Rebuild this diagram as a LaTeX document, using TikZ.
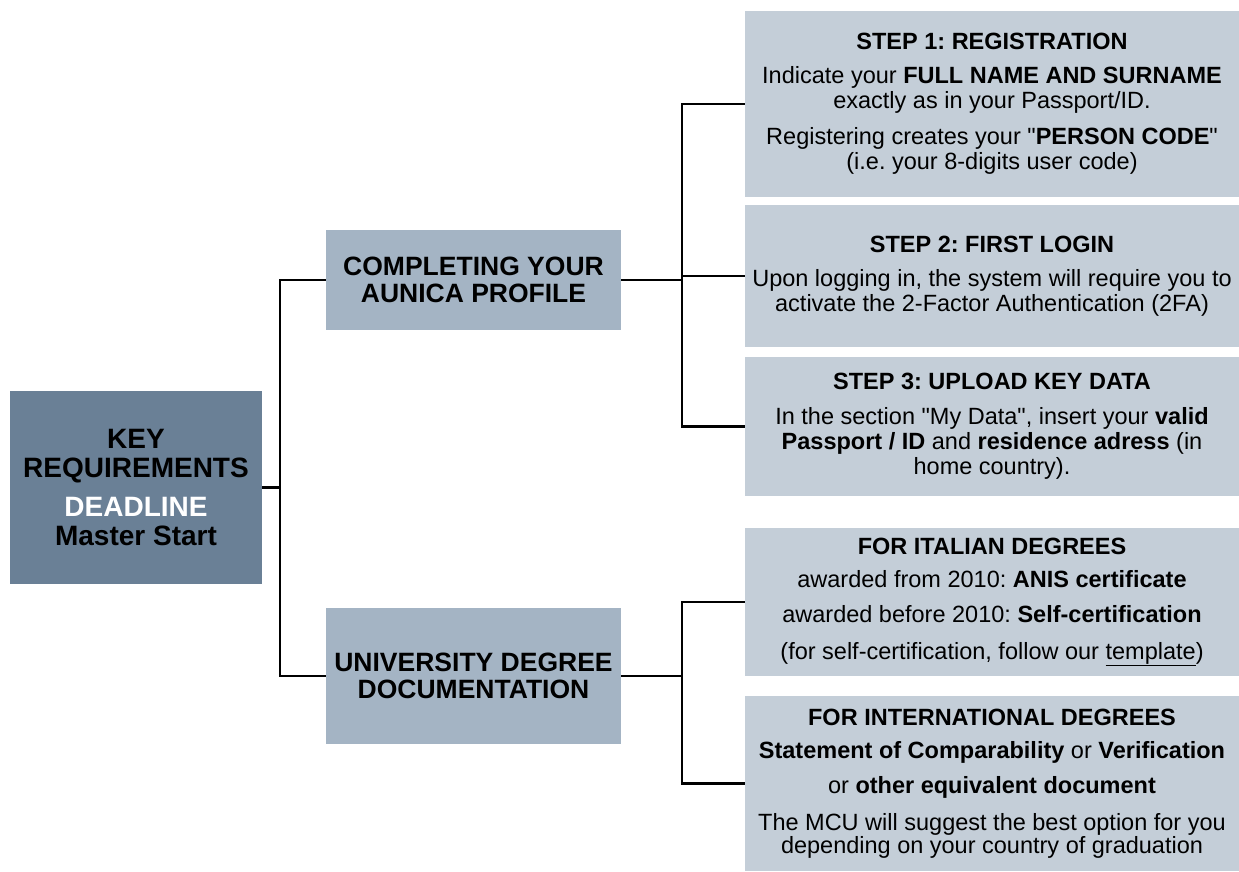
\documentclass[tikz,border=0pt]{standalone}
\usepackage{fontspec}
\setmainfont{Liberation Sans}[Ligatures=TeXOff]
\frenchspacing
\definecolor{rootfill}{RGB}{106,128,150}
\definecolor{topicfill}{RGB}{164,180,196}
\definecolor{stepfill}{RGB}{196,206,216}

\begin{document}
\begin{tikzpicture}[
    x=1pt, y=-1pt,
    % Styles
    rootbox/.style={
        fill=rootfill, rectangle, minimum width=252pt, minimum height=193pt, inner sep=0pt, align=center,
        font=\fontsize{28}{29}\selectfont\bfseries
    },
    topicbox/.style={
        fill=topicfill, rectangle, minimum width=295pt, inner sep=0pt, align=center,
        font=\fontsize{26.5}{26.5}\selectfont\bfseries
    },
    stepbox/.style={
        fill=stepfill, rectangle, minimum width=494pt, inner sep=0pt, align=center,
        font=\fontsize{23.5}{25}\selectfont
    },
    link/.style={line width=2.5pt, black}
]
    \useasboundingbox (0,0) rectangle (1239,871);

    % --- ROOT ---
    \node[rootbox] (root) at (136,487.5) {
        KEY\\ REQUIREMENTS\\[10pt]
        \textcolor{white}{DEADLINE}\\ Master Start
    };

    % --- TOPICS ---
    \node[topicbox, minimum height=100pt] (profile) at (473.5,280) {COMPLETING YOUR\\ AUNICA PROFILE};
    \node[topicbox, minimum height=136pt] (degree) at (473.5,676) {UNIVERSITY DEGREE\\ DOCUMENTATION};

    % --- PROFILE STEPS ---
    \node[stepbox, minimum height=186pt] (step1) at (992,104) {
        \textbf{STEP 1: REGISTRATION}\\[9pt]
        Indicate your \textbf{FULL NAME AND SURNAME}\\
        exactly as in your Passport/ID.\\[11pt]
        Registering creates your "\textbf{PERSON CODE}"\\
        (i.e. your 8-digits user code)
    };
    \node[stepbox, minimum height=142pt] (step2) at (992,276) {
        \textbf{STEP 2: FIRST LOGIN}\\[9pt]
        Upon logging in, the system will require you to\\
        activate the 2-Factor Authentication (2FA)
    };
    \node[stepbox, minimum height=139pt] (step3) at (992,426.5) {
        \textbf{STEP 3: UPLOAD KEY DATA}\\[10pt]
        In the section "My Data", insert your \textbf{valid}\\
        \textbf{Passport / ID} and \textbf{residence adress} (in\\
        home country).
    };

    % --- DEGREE DOCUMENTS ---
    \node[stepbox, minimum height=148pt] (italian) at (992,602) {
        \textbf{FOR ITALIAN DEGREES}\\[8pt]
        awarded from 2010: \textbf{ANIS certificate}\\[10pt]
        awarded before 2010: \textbf{Self-certification}\\[12pt]
        (for self-certification, follow our \underline{template})
    };
    \node[stepbox, minimum height=175pt] (intl) at (992,783.5) {
        \textbf{FOR INTERNATIONAL DEGREES}\\[8pt]
        \textbf{Statement of Comparability} or \textbf{Verification}\\[10pt]
        or \textbf{other equivalent document}\\[12pt]
        The MCU will suggest the best option for you\\[-2pt]
        depending on your country of graduation
    };

    % --- CONNECTIONS ---
    \draw[link] (root.east) -- ++(18,0) |- (profile.west);
    \draw[link] (root.east) -- ++(18,0) |- (degree.west);

    \draw[link] (profile.east) -- ++(61,0) |- (step1.west);
    \draw[link] (profile.east) -- ++(61,0) |- (step2.west);
    \draw[link] (profile.east) -- ++(61,0) |- (step3.west);

    \draw[link] (degree.east) -- ++(61,0) |- (italian.west);
    \draw[link] (degree.east) -- ++(61,0) |- (intl.west);

\end{tikzpicture}
\end{document}
